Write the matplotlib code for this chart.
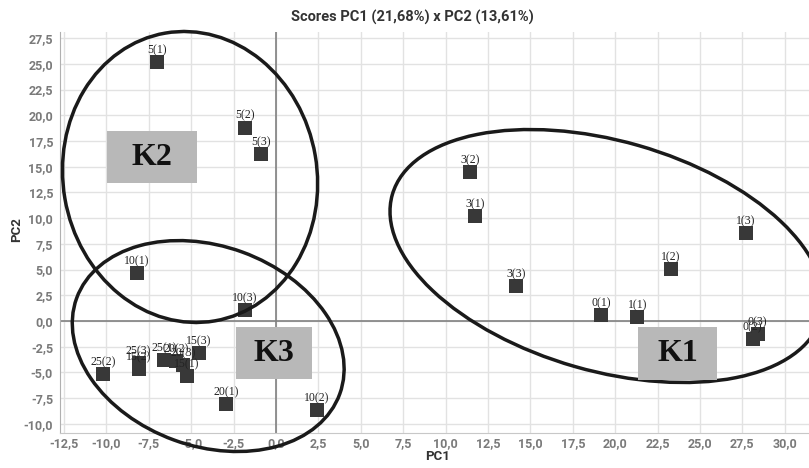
import matplotlib
matplotlib.use("Agg")
import matplotlib.pyplot as plt
import matplotlib.transforms as mtransforms
from matplotlib.patches import Ellipse, Rectangle
from matplotlib.ticker import FuncFormatter
import numpy as np

# sample scores (label, PC1, PC2)
labels = ['0(1)', '0(2)', '0(3)', '1(1)', '1(2)', '1(3)',
          '3(1)', '3(2)', '3(3)', '5(1)', '5(2)', '5(3)',
          '10(1)', '10(2)', '10(3)', '15(1)', '15(2)', '15(3)',
          '20(1)', '20(2)', '20(3)', '25(1)', '25(2)', '25(3)']
pc1 = [19.15, 28.1, 28.4, 21.3, 23.3, 27.7,
       11.75, 11.45, 14.15, -7.0, -1.85, -0.9,
       -8.2, 2.4, -1.85, -5.25, -8.1, -4.55,
       -2.95, -5.9, -5.5, -6.6, -10.2, -8.1]
pc2 = [0.6, -1.75, -1.3, 0.4, 5.05, 8.55,
       10.2, 14.5, 3.4, 25.2, 18.8, 16.2,
       4.7, -8.65, 1.05, -5.35, -4.7, -3.15,
       -8.1, -3.9, -4.3, -3.8, -5.15, -4.1]

# cluster outlines: centre (data), width/height (inches), angle
clusters = ['K1', 'K2', 'K3']
ell_center = [(19.5, 6.32), (-5.07, 14.0), (-4.0, -2.43)]
ell_size = [(4.46, 2.30), (2.92, 2.54), (2.80, 2.00)]
ell_angle = [-16, 99.8, -20]
# grey label boxes (x0, y0, x1, y1 in data units)
box_extent = [(21.35, -5.7, 26.0, -0.6), (-9.95, 13.4, -4.65, 18.45),
              (-2.35, -5.65, 2.1, -0.6)]

W, H = 809, 468
fig = plt.figure(figsize=(W / 100, H / 100), dpi=100)
ax = fig.add_axes([60 / W, (H - 433) / H, (W - 60) / W, (433 - 32) / H])
ax.set_xlim(-12.74, 31.43)
ax.set_ylim(-10.88, 28.09)

ax.set_xticks(np.arange(-12.5, 30.1, 2.5))
ax.set_yticks(np.arange(-10, 27.6, 2.5))
comma = FuncFormatter(lambda v, p: f"{v:.1f}".replace('.', ','))
ax.xaxis.set_major_formatter(comma)
ax.yaxis.set_major_formatter(comma)
ax.tick_params(length=0, labelsize=9, colors='#7a7a7a')
ax.tick_params(axis='x', pad=3)
ax.tick_params(axis='y', pad=5)
for lab in ax.get_xticklabels() + ax.get_yticklabels():
    lab.set_fontfamily('Roboto')
    lab.set_fontweight('bold')
ax.grid(True, color='#e2e2e2', lw=1.0)
ax.set_axisbelow(True)
for s in ['top', 'right']:
    ax.spines[s].set_visible(False)
ax.spines['left'].set_color('#b0b0b0')
ax.spines['bottom'].set_color('#c8c8c8')
ax.axhline(0, color='#808080', lw=1.2, zorder=1)
ax.axvline(0, color='#808080', lw=1.2, zorder=1)

ax.scatter(pc1, pc2, marker='s', s=90, color='#383838', zorder=3, linewidths=0)
for lab, x, y in zip(labels, pc1, pc2):
    ax.annotate(lab, (x, y), xytext=(0, 4.2), textcoords='offset points',
                ha='center', va='bottom', fontsize=8.5, color='#222222',
                family='Liberation Serif', zorder=4)

for name, c, sz, ang, bx in zip(clusters, ell_center, ell_size, ell_angle, box_extent):
    tr = fig.dpi_scale_trans + mtransforms.ScaledTranslation(c[0], c[1], ax.transData)
    ax.add_patch(Ellipse((0, 0), sz[0], sz[1], angle=ang, transform=tr,
                         fill=False, ec='#1a1a1a', lw=2.5, clip_on=False, zorder=5))
    ax.add_patch(Rectangle((bx[0], bx[1]), bx[2] - bx[0], bx[3] - bx[1],
                           fc='#b8b8b8', ec='none', zorder=6))
    ax.text((bx[0] + bx[2]) / 2, (bx[1] + bx[3]) / 2, name, ha='center', va='center',
            fontsize=23, fontweight='bold', family='Liberation Serif',
            color='#111111', zorder=7)

fig.text(412 / W, 1 - 17 / H, 'Scores PC1 (21,68%) x PC2 (13,61%)', ha='center',
         va='center', fontsize=10.5, fontweight='bold', color='#333333', family='Roboto')
fig.text(438 / W, 1 - 457 / H, 'PC1', ha='center', va='center', fontsize=9.5,
         fontweight='bold', color='#333333', family='Roboto')
fig.text(17 / W, 1 - 230 / H, 'PC2', ha='center', va='center', rotation=90,
         fontsize=9.5, fontweight='bold', color='#333333', family='Roboto')

fig.savefig('out.png', dpi=100)
